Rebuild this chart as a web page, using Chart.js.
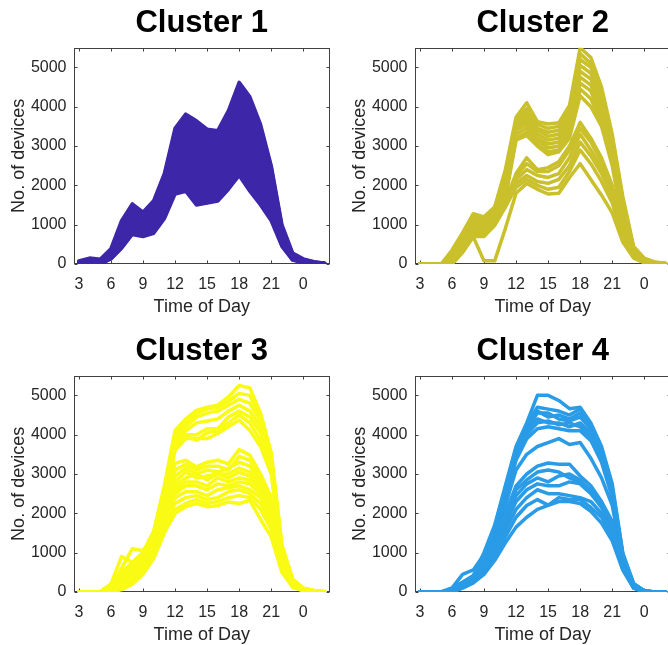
<!DOCTYPE html>
<html>
<head>
<meta charset="utf-8">
<script src="https://cdn.jsdelivr.net/npm/chart.js@4.4.1/dist/chart.umd.min.js"></script>
<style>
  html, body { margin: 0; padding: 0; background: #fff; overflow: hidden; }
  #wrap { position: relative; width: 668px; height: 645px; overflow: hidden; }
  .panel { position: absolute; width: 341px; height: 328px; }
  .panel canvas { display: block; }
</style>
</head>
<body>
<div id="wrap">
  <div class="panel" style="left:0;top:0"><canvas id="c1" width="341" height="328"></canvas></div>
  <div class="panel" style="left:341px;top:0"><canvas id="c2" width="341" height="328"></canvas></div>
  <div class="panel" style="left:0;top:328px"><canvas id="c3" width="341" height="328"></canvas></div>
  <div class="panel" style="left:341px;top:328px"><canvas id="c4" width="341" height="328"></canvas></div>
</div>
<script>
// hours of the day, 3 .. 26 (26 = 2am next day)
const hours = [3,4,5,6,7,8,9,10,11,12,13,14,15,16,17,18,19,20,21,22,23,24,25,26];
const xTickValues = [3, 6, 9, 12, 15, 18, 21, 24];
const xTickLabels = ['3', '6', '9', '12', '15', '18', '21', '0'];
const yTickValues = [0, 1000, 2000, 3000, 4000, 5000];

const clusterTitles = ['Cluster 1', 'Cluster 2', 'Cluster 3', 'Cluster 4'];
const clusterColors = ['#3e26a8', '#c9c02c', '#f9fb15', '#2a9be6'];

// one row per device trace (values at each hour)
const cluster1Lines = [
  [80,150,120,390,1100,1530,1320,1610,2300,3450,3810,3640,3430,3390,3900,4620,4250,3550,2500,1000,280,130,60,20],
  [60,120,100,350,1000,1450,1250,1550,2250,3350,3700,3550,3330,3300,3700,4450,4150,3450,2450,950,260,110,50,20],
  [50,100,80,300,900,1350,1200,1500,2200,3250,3600,3400,3250,3200,3500,4300,4000,3300,2350,900,240,100,40,10],
  [40,80,60,280,850,1300,1150,1450,2150,3200,3500,3300,3150,3100,3400,4150,3850,3200,2250,850,220,90,40,10],
  [30,60,40,250,800,1200,1100,1400,2100,3100,3400,3200,3050,3000,3300,4000,3700,3050,2150,800,200,80,30,10],
  [30,50,30,230,750,1150,1050,1350,2000,2900,3000,2900,2800,2850,3100,3700,3500,2900,2050,750,190,80,30,10],
  [20,40,20,220,700,1100,1000,1300,1950,2750,2850,2700,2650,2700,2950,3450,3250,2750,1950,700,180,70,30,10],
  [20,30,20,200,650,1050,950,1250,1900,2650,2800,2600,2500,2550,2800,3300,3100,2650,1850,680,170,60,20,0],
  [10,20,10,200,600,1000,900,1150,1800,2500,2600,2450,2350,2400,2650,3150,2950,2500,1750,650,160,60,20,0],
  [10,20,10,180,580,950,850,1100,1700,2400,2550,2300,2250,2450,2600,3000,2800,2400,1700,620,150,50,20,0],
  [10,10,0,170,550,900,800,1050,1600,2300,2400,2200,2150,2300,2400,2800,2500,2100,1550,600,140,50,20,0],
  [0,10,0,160,500,850,780,950,1450,2150,2250,2050,2000,2100,2250,2600,2300,1900,1400,560,130,40,10,0],
  [0,0,0,150,450,800,750,900,1350,2050,2150,1950,1900,1950,2100,2500,2150,1750,1300,520,120,40,10,0],
  [0,0,0,140,420,780,720,850,1250,1900,2000,1800,1800,1850,2000,2350,1950,1600,1200,480,110,30,10,0],
  [0,0,0,130,400,750,700,780,1150,1780,1850,1500,1550,1600,1900,2250,1850,1500,1100,450,100,30,10,0]
];

const cluster2Lines = [
  [0,0,0,350,800,1280,1200,1450,2400,3730,4100,3620,3560,3590,4030,5500,5250,4500,3300,1700,450,150,50,20],
  [0,0,0,300,750,1220,1150,1420,2300,3650,3950,3550,3450,3500,3900,5350,5100,4400,3200,1600,420,130,40,10],
  [0,0,0,250,700,1180,1100,1380,2200,3600,3850,3450,3350,3400,3800,5200,5000,4300,3100,1500,400,120,40,10],
  [0,0,0,200,650,1130,1050,1330,2100,3500,3750,3400,3250,3300,3700,5050,4850,4150,3000,1400,380,110,30,10],
  [0,0,0,150,600,1080,1000,1280,2000,3450,3650,3300,3150,3200,3600,4900,4700,4000,2900,1300,350,100,30,10],
  [0,0,0,100,550,1030,950,1230,1950,3400,3550,3200,3050,3100,3500,4750,4550,3900,2800,1200,320,90,30,0],
  [0,0,0,80,500,980,900,1180,1850,3300,3450,3150,2950,3000,3400,4600,4400,3750,2700,1150,300,80,20,0],
  [0,0,0,50,450,930,850,1130,1750,3200,3350,3050,2850,2900,3300,4450,4200,3600,2600,1100,280,70,20,0],
  [0,0,0,30,400,880,800,1080,1650,3150,3270,3000,2780,2850,3200,4280,4000,3500,2500,1000,260,60,20,0],
  [0,0,0,50,450,900,850,1100,1600,2300,2700,2400,2450,2600,3000,3600,3200,2700,2000,900,230,60,20,0],
  [0,0,0,30,400,850,800,1050,1550,2250,2550,2350,2350,2500,2900,3450,3100,2600,1900,850,220,50,10,0],
  [0,0,0,0,350,800,750,1000,1500,2150,2400,2250,2200,2300,2700,3300,2900,2450,1800,800,200,50,10,0],
  [0,0,0,0,320,750,730,1000,1450,2050,2250,2100,2050,2150,2500,3100,2750,2300,1700,750,190,40,10,0],
  [0,0,0,0,300,700,700,980,1450,1950,2150,2000,1900,1950,2350,2900,2550,2100,1550,700,180,40,10,0],
  [0,0,0,0,300,690,80,80,900,1800,2050,1900,1780,1800,2200,2550,2150,1750,1300,550,150,30,10,0]
];

const cluster3Lines = [
  [0,0,0,200,500,750,1000,1550,2700,4110,4400,4620,4700,4750,4960,5250,5190,4550,3550,1200,330,100,40,10],
  [0,0,0,170,450,700,980,1500,2600,4000,4300,4550,4650,4700,4850,5050,5000,4450,3450,1150,320,90,30,10],
  [0,0,0,140,400,650,950,1450,2550,3900,4200,4450,4550,4600,4750,4900,4800,4350,3400,1100,310,80,30,0],
  [0,0,0,120,350,600,900,1400,2500,3800,4100,4300,4350,4400,4600,4750,4600,4200,3300,1080,300,80,20,0],
  [0,0,0,100,300,550,850,1350,2400,3700,4000,4000,4150,4150,4450,4600,4450,4050,3200,1050,290,70,20,0],
  [0,0,0,80,280,500,800,1300,2300,3650,3950,3860,4050,4100,4300,4500,4300,3850,3100,1000,280,70,20,0],
  [0,0,0,60,250,450,750,1250,2250,3600,3900,3900,3900,4030,4200,4370,4110,3700,3000,950,270,60,20,0],
  [0,0,0,200,900,750,1000,1500,2300,3270,3350,3180,3300,3350,3260,3620,3480,3000,2400,900,250,70,20,0],
  [0,0,0,100,600,1100,1050,1450,2250,3100,3250,3100,3200,3200,3100,3450,3350,2900,2300,850,240,60,20,0],
  [0,0,0,60,300,600,800,1300,2150,2950,3150,3000,3100,3050,3150,3300,3200,2800,2250,820,230,60,20,0],
  [0,0,0,50,250,500,750,1250,2050,2800,3050,2900,2950,3000,3000,3150,3050,2700,2200,800,220,50,10,0],
  [0,0,0,40,200,400,700,1200,2000,2700,2900,3000,2850,3000,2900,3050,2950,2650,2100,780,210,50,10,0],
  [0,0,0,30,180,350,650,1150,1950,2600,2800,2800,2700,2900,2800,2900,2850,2600,2050,750,200,50,10,0],
  [0,0,0,20,150,300,600,1100,1900,2500,2700,2700,2600,2750,2700,2800,2750,2500,1950,720,190,40,10,0],
  [0,0,0,10,120,280,550,1050,1800,2400,2550,2550,2450,2600,2650,2700,2600,2400,1850,700,180,40,10,0],
  [0,0,0,0,100,250,500,1000,1700,2250,2400,2450,2350,2400,2550,2600,2500,2250,1750,650,170,40,10,0],
  [0,0,0,0,80,220,480,920,1600,2100,2250,2350,2250,2300,2400,2450,2400,2100,1600,600,150,30,10,0],
  [0,0,0,0,60,200,450,850,1500,2000,2170,2250,2170,2200,2290,2250,2330,1850,1400,500,120,30,10,0]
];

const cluster4Lines = [
  [0,0,0,100,250,420,1000,1700,2700,3700,4300,5000,5000,4870,4660,4700,4300,3700,2750,980,220,30,0,0],
  [0,0,0,100,450,560,950,1650,2650,3650,4250,4700,4650,4600,4500,4650,4250,3650,2650,950,210,30,0,0],
  [0,0,0,80,250,400,900,1600,2550,3600,4200,4600,4450,4500,4400,4550,4200,3600,2600,900,200,30,0,0],
  [0,0,0,60,230,380,850,1550,2500,3550,4150,4550,4550,4400,4350,4450,4150,3550,2550,900,200,20,0,0],
  [0,0,0,50,220,360,800,1500,2450,3500,4100,4400,4300,4300,4200,4300,4050,3500,2500,850,190,20,0,0],
  [0,0,0,40,200,340,750,1450,2400,3450,4000,4300,4350,4250,4300,4200,3950,3400,2450,850,180,20,0,0],
  [0,0,0,30,180,320,700,1400,2350,3350,3900,4150,4200,4150,4100,4100,3850,3300,2400,800,170,20,0,0],
  [0,0,0,20,170,300,650,1300,2200,3100,3500,3700,3800,3900,3750,3800,3400,2900,2200,750,160,20,0,0],
  [0,0,0,20,160,300,620,1200,2000,2700,3000,3200,3280,3250,3250,2950,2700,2300,1800,700,150,10,0,0],
  [0,0,0,10,150,280,600,1150,1900,2600,2850,3050,3100,3050,2900,2800,2600,2250,1700,680,140,10,0,0],
  [0,0,0,10,140,270,580,1100,1800,2450,2750,2900,2800,2950,3000,2850,2550,2200,1650,650,130,10,0,0],
  [0,0,0,0,130,260,560,1000,1700,2300,2600,2750,2700,2700,2800,2750,2500,2150,1600,620,120,10,0,0],
  [0,0,0,0,120,250,520,950,1550,2100,2400,2600,2500,2500,2450,2400,2300,2000,1500,600,110,10,0,0],
  [0,0,0,0,110,240,480,880,1400,1900,2200,2350,2210,2400,2350,2350,2150,1900,1400,580,100,10,0,0],
  [0,0,0,0,100,230,450,800,1250,1650,1900,2100,2200,2300,2300,2250,2050,1750,1300,550,100,0,0,0]
];

const FONT = '"Liberation Sans", Arial, Helvetica, sans-serif';
const AXIS_COLOR = '#262626';

// matlab-style box with inward tick marks
const axesBox = {
  id: 'axesBox',
  beforeDatasetsDraw(chart) {
    const { ctx, chartArea: a, scales: { x, y } } = chart;
    const L = Math.round(a.left) + 0.5, R = Math.round(a.right) - 0.5;
    const T = Math.round(a.top) + 0.5, B = Math.round(a.bottom) - 0.5;
    ctx.save();
    ctx.strokeStyle = '#404040';
    ctx.lineWidth = 1;
    ctx.strokeRect(L, T, R - L, B - T);
    ctx.beginPath();
    xTickValues.forEach(v => {
      const px = Math.round(x.getPixelForValue(v)) + 0.5;
      ctx.moveTo(px, B); ctx.lineTo(px, B - 3);
      ctx.moveTo(px, T); ctx.lineTo(px, T + 3);
    });
    yTickValues.forEach(v => {
      const py = Math.round(y.getPixelForValue(v)) + 0.5;
      ctx.moveTo(L, py); ctx.lineTo(L + 3, py);
      ctx.moveTo(R, py); ctx.lineTo(R - 3, py);
    });
    ctx.stroke();
    ctx.restore();
  }
};

function makeChart(canvasId, title, color, lines, fillBand) {
  const datasets = lines.map((vals, i) => ({
    data: vals.map((v, j) => ({ x: hours[j], y: v })),
    borderColor: color,
    backgroundColor: color,
    borderWidth: 3.5,
    borderJoinStyle: 'round',
    borderCapStyle: 'round',
    pointRadius: 0,
    tension: 0,
    fill: (fillBand && i === 0) ? lines.length - 1 : false
  }));

  return new Chart(document.getElementById(canvasId), {
    type: 'line',
    data: { datasets },
    plugins: [axesBox],
    options: {
      responsive: false,
      animation: false,
      events: [],
      layout: { padding: { left: 0, right: 11, top: 0, bottom: 0 } },
      plugins: {
        legend: { display: false },
        tooltip: { enabled: false },
        title: {
          display: true,
          text: title,
          fullSize: false,
          color: '#000',
          font: { family: FONT, size: 31, weight: 'bold', lineHeight: 1.2 },
          padding: { top: 4.5, bottom: 6 }
        }
      },
      scales: {
        x: {
          type: 'linear',
          min: 2.5,
          max: 26.5,
          afterBuildTicks: s => { s.ticks = xTickValues.map(v => ({ value: v })); },
          afterFit: s => { s.height = 64; },
          grid: { display: false, drawTicks: false },
          border: { display: false },
          ticks: {
            autoSkip: false,
            maxRotation: 0,
            padding: 11,
            color: AXIS_COLOR,
            font: { family: FONT, size: 16 },
            callback: v => xTickLabels[xTickValues.indexOf(v)]
          },
          title: {
            display: true,
            text: 'Time of Day',
            color: AXIS_COLOR,
            font: { family: FONT, size: 18 },
            padding: { top: 0, bottom: 10 }
          }
        },
        y: {
          min: 0,
          max: 5500,
          afterBuildTicks: s => { s.ticks = yTickValues.map(v => ({ value: v })); },
          afterFit: s => { s.width = 73.5; },
          grid: { display: false, drawTicks: false },
          border: { display: false },
          ticks: {
            padding: 7,
            color: AXIS_COLOR,
            font: { family: FONT, size: 16 },
            callback: v => String(v)
          },
          title: {
            display: true,
            text: 'No. of devices',
            color: AXIS_COLOR,
            font: { family: FONT, size: 18 },
            padding: { top: 8, bottom: 0 }
          }
        }
      }
    }
  });
}

makeChart('c1', clusterTitles[0], clusterColors[0], cluster1Lines, true);
makeChart('c2', clusterTitles[1], clusterColors[1], cluster2Lines, false);
makeChart('c3', clusterTitles[2], clusterColors[2], cluster3Lines, false);
makeChart('c4', clusterTitles[3], clusterColors[3], cluster4Lines, false);
</script>
</body>
</html>
